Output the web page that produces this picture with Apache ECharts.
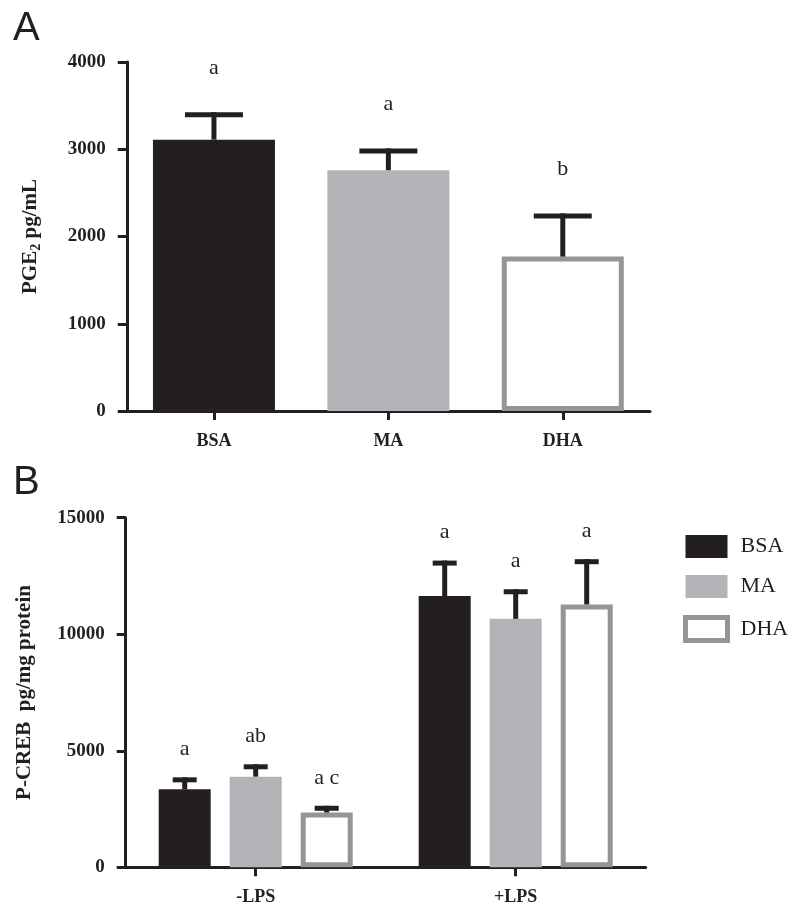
<!DOCTYPE html>
<html><head><meta charset="utf-8">
<script src="https://cdn.jsdelivr.net/npm/echarts@6/dist/echarts.min.js"></script>
<style>html,body{margin:0;padding:0;background:#fff}#c{width:800px;height:917px}</style>
</head><body><div id="c"></div>
<script>
// ---------- DATA ----------
const categoriesA = ['BSA', 'MA', 'DHA'];
const meanA = [3110, 2760, 1770];
const semA = [315, 250, 495];
const lettersA = ['a', 'a', 'b'];
const yTicksA = [0, 1000, 2000, 3000, 4000];

const groupsB = ['-LPS', '+LPS'];
const seriesNamesB = ['BSA', 'MA', 'DHA'];
const bsaB = [3350, 11640];
const maB = [3890, 10660];
const dhaB = [2350, 11280];
const bsaSemB = [510, 1520];
const maSemB = [530, 1270];
const dhaSemB = [290, 1940];
const bsaLettersB = ['a', 'a'];
const maLettersB = ['ab', 'a'];
const dhaLettersB = ['a c', 'a'];
const yTicksB = [0, 5000, 10000, 15000];

// ---------- STYLE ----------
const INK = '#231f20', GRAY = '#b1b3b6', EDGE = '#939598';
const SERIF = '"Liberation Serif", "Times New Roman", serif';
const SANS = '"Liberation Sans", Arial, sans-serif';
const itemStyles = [
  { color: INK },
  { color: GRAY },
  { color: '#ffffff', borderColor: EDGE, borderWidth: 5 }
];

function errRender(offsetPx, capW, stemW, capT, letterGap, letters) {
  return function (params, api) {
    const base = api.coord([api.value(0), api.value(1)]);
    const top = api.coord([api.value(0), api.value(2)]);
    const cx = base[0] + offsetPx;
    return {
      type: 'group',
      children: [
        { type: 'rect', shape: { x: cx - stemW / 2, y: top[1], width: stemW, height: base[1] - top[1] }, style: { fill: INK } },
        { type: 'rect', shape: { x: cx - capW / 2, y: top[1], width: capW, height: capT }, style: { fill: INK } },
        { type: 'text', x: cx, y: top[1] - letterGap, style: { text: letters[params.dataIndex], fill: INK, font: '22px ' + SERIF, align: 'center', verticalAlign: 'middle' } }
      ]
    };
  };
}

const yAxisCommon = {
  type: 'value',
  axisLine: { show: true, lineStyle: { color: INK, width: 3 } },
  axisTick: { show: true, length: 9, lineStyle: { color: INK, width: 3 } },
  splitLine: { show: false },
  axisLabel: { margin: 21, fontFamily: SERIF, fontWeight: 'bold', fontSize: 19, color: INK, formatter: v => String(v) },
  nameLocation: 'middle',
  nameRotate: 90
};
const xAxisCommon = {
  type: 'category',
  axisLine: { show: true, lineStyle: { color: INK, width: 3 } },
  axisTick: { show: true, alignWithLabel: true, length: 9, lineStyle: { color: INK, width: 3 } },
  axisLabel: { margin: 21, fontFamily: SERIF, fontWeight: 'bold', fontSize: 18, color: INK }
};

const BW_B = 52, GAP_B = 19;
const meansB = [bsaB, maB, dhaB];
const semsB = [bsaSemB, maSemB, dhaSemB];
const lettersB = [bsaLettersB, maLettersB, dhaLettersB];

const series = [
  {
    type: 'bar', xAxisIndex: 0, yAxisIndex: 0, barWidth: 122,
    data: meanA.map((v, i) => ({ value: v, itemStyle: itemStyles[i] }))
  },
  {
    type: 'custom', xAxisIndex: 0, yAxisIndex: 0, z: 5,
    renderItem: errRender(0, 58, 5, 5, 44, lettersA),
    data: meanA.map((m, i) => [i, m, m + semA[i]])
  }
];
seriesNamesB.forEach((name, k) => {
  series.push({
    type: 'bar', name: name, xAxisIndex: 1, yAxisIndex: 1,
    barWidth: BW_B, barGap: (GAP_B / BW_B * 100) + '%',
    itemStyle: itemStyles[k],
    data: meansB[k]
  });
});
seriesNamesB.forEach((name, k) => {
  series.push({
    type: 'custom', xAxisIndex: 1, yAxisIndex: 1, z: 5,
    renderItem: errRender((k - 1) * (BW_B + GAP_B), 24, 5, 5, 28, lettersB[k]),
    data: meansB[k].map((m, j) => [j, m, m + semsB[k][j]])
  });
});

const option = {
  animation: false,
  backgroundColor: '#ffffff',
  grid: [
    { left: 126.75, right: 150, top: 62, bottom: 506 },
    { left: 125.7, right: 154.3, top: 517.7, bottom: 49.7 }
  ],
  xAxis: [
    Object.assign({}, xAxisCommon, { gridIndex: 0, data: categoriesA }),
    Object.assign({}, xAxisCommon, { gridIndex: 1, data: groupsB })
  ],
  yAxis: [
    Object.assign({}, yAxisCommon, {
      gridIndex: 0, min: yTicksA[0], max: yTicksA[yTicksA.length - 1], interval: yTicksA[1] - yTicksA[0],
      name: '{n|PGE}{s|2}{n| pg/mL}', nameGap: 83,
      nameTextStyle: {
        rich: {
          n: { fontFamily: SERIF, fontWeight: 'bold', fontSize: 21, color: INK, lineHeight: 26 },
          s: { fontFamily: SERIF, fontWeight: 'bold', fontSize: 14, color: INK, lineHeight: 14, verticalAlign: 'bottom' }
        }
      }
    }),
    Object.assign({}, yAxisCommon, {
      gridIndex: 1, min: yTicksB[0], max: yTicksB[yTicksB.length - 1], interval: yTicksB[1] - yTicksB[0],
      name: 'P-CREB  pg/mg protein', nameGap: 91,
      nameTextStyle: { fontFamily: SERIF, fontWeight: 'bold', fontSize: 21, color: INK }
    })
  ],
  legend: {
    data: [
      { name: seriesNamesB[0] },
      { name: seriesNamesB[1] },
      { name: seriesNamesB[2], itemStyle: { color: '#ffffff', borderColor: EDGE, borderWidth: 5 } }
    ],
    orient: 'vertical', left: 678, top: 530,
    itemWidth: 42, itemHeight: 23, itemGap: 17, icon: 'rect', selectedMode: false,
    textStyle: { fontFamily: SERIF, fontSize: 22, color: INK, padding: [0, 0, 0, 8] }
  },
  graphic: [
    { type: 'text', left: 13, top: 9, style: { text: 'A', font: '40px ' + SANS, fill: INK } },
    { type: 'text', left: 13, top: 463, style: { text: 'B', font: '40px ' + SANS, fill: INK } }
  ],
  series: series
};

const chart = echarts.init(document.getElementById('c'), null, { renderer: 'canvas' });
chart.setOption(option);
</script>
</body></html>
